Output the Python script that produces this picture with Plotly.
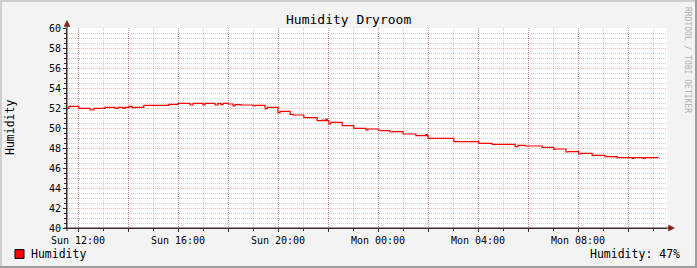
import plotly.graph_objects as go

# ---- data ----
day_sun = "2011-01-02"
day_mon = "2011-01-03"
times_sun = ["11:34", "11:38", "12:02", "12:29", "12:38", "13:05", "13:29", "13:36", "13:48", "13:53",
             "14:02", "14:10", "14:17", "14:38", "15:38", "16:00", "16:29", "16:36", "17:00", "17:05",
             "17:29", "17:36", "17:43", "17:48", "18:00", "18:12", "18:17", "18:31", "19:00", "19:05",
             "19:29", "19:34", "20:00", "20:05", "20:29", "20:36", "21:02", "21:34", "21:46", "21:50",
             "21:55", "21:58", "22:02", "22:07", "22:34", "23:02", "23:31", "23:36"]
values_sun = [51.97, 52.17, 51.97, 51.80, 51.97, 52.07, 51.97, 52.07, 51.97, 52.07,
              52.17, 52.03, 52.07, 52.27, 52.37, 52.47, 52.30, 52.47, 52.30, 52.47,
              52.30, 52.47, 52.33, 52.47, 52.40, 52.20, 52.33, 52.30, 52.20, 52.27,
              51.93, 52.07, 51.53, 51.67, 51.37, 51.30, 51.03, 50.73, 50.80, 50.73,
              50.90, 50.73, 50.40, 50.57, 50.23, 49.97, 49.80, 49.90]
times_mon = ["00:00", "00:05", "00:29", "00:36", "01:00", "01:31", "01:55", "01:58", "02:00", "03:02",
             "04:02", "04:34", "05:29", "05:36", "05:53", "06:34", "07:02", "07:05", "07:31", "07:36",
             "08:02", "08:07", "08:34", "09:05", "09:34", "10:10", "10:14", "10:36", "10:41", "11:14"]
values_mon = [49.80, 49.73, 49.60, 49.63, 49.40, 49.23, 49.33, 49.23, 48.97, 48.63,
              48.47, 48.37, 48.13, 48.27, 48.20, 48.07, 47.87, 47.90, 47.60, 47.63,
              47.40, 47.47, 47.27, 47.13, 47.03, 46.97, 47.03, 46.97, 47.03, 47.03]

x_range = ["2011-01-02 11:33:36", "2011-01-03 11:33:36"]
x_tick_hours = ["2011-01-02 12:00", "2011-01-02 14:00", "2011-01-02 16:00", "2011-01-02 18:00",
                "2011-01-02 20:00", "2011-01-02 22:00", "2011-01-03 00:00", "2011-01-03 02:00",
                "2011-01-03 04:00", "2011-01-03 06:00", "2011-01-03 08:00", "2011-01-03 10:00"]
x_tick_text = ["Sun 12:00", "", "Sun 16:00", "", "Sun 20:00", "", "Mon 00:00", "",
               "Mon 04:00", "", "Mon 08:00", ""]
y_range = [40, 60]
title_text = "Humidity Dryroom"
y_title = "Humidity"
series_name = "Humidity"
legend_value = "Humidity: 47%"
watermark = "RRDTOOL / TOBI OETIKER"

times = [f"{day_sun} {t}" for t in times_sun] + [f"{day_mon} {t}" for t in times_mon]
values = values_sun + values_mon

FONT = "DejaVu Sans Mono"
W, H = 697, 268
L, R, T, B = 67, 667, 28, 228   # plot area in pixels


def px(x):
    return (x - L) / (R - L)


def py(y):
    return (B - y) / (B - T)


fig = go.Figure()
fig.add_trace(go.Scatter(x=times, y=values, mode="lines", line=dict(color="#FF0000", width=1.2, shape="hv"),
                         name=series_name, showlegend=False, hoverinfo="skip"))

major_grid = "rgba(255,0,0,0.3)"
minor_grid = "rgba(143,143,143,0.42)"
axis_col = "#3a2a2a"

fig.update_layout(
    width=W, height=H,
    margin=dict(l=L, r=W - R, t=T, b=H - B, pad=0),
    paper_bgcolor="#F3F3F3",
    plot_bgcolor="#FFFFFF",
    font=dict(family=FONT, size=10, color="#000000"),
    showlegend=False,
    xaxis=dict(
        type="date", range=x_range, tickmode="array", tickvals=x_tick_hours, ticktext=x_tick_text,
        showgrid=True, gridcolor=major_grid, griddash="1px,1px", gridwidth=1,
        ticks="outside", ticklen=3, tickcolor=axis_col,
        showline=True, linecolor=axis_col, linewidth=1, zeroline=False,
        tickfont=dict(family=FONT, size=10),
        minor=dict(tickmode="linear", tick0="2011-01-02 12:00", dtick=3600000,
                   showgrid=True, gridcolor=minor_grid, griddash="1px,1px", gridwidth=1,
                   ticks="outside", ticklen=2, tickcolor=axis_col),
        automargin=False,
    ),
    yaxis=dict(
        range=y_range, dtick=2, tick0=40,
        showgrid=True, gridcolor=major_grid, griddash="1px,1px", gridwidth=1,
        ticks="outside", ticklen=3, tickcolor=axis_col,
        showline=True, linecolor=axis_col, linewidth=1, zeroline=False,
        tickfont=dict(family=FONT, size=10),
        minor=dict(dtick=0.5, showgrid=True, gridcolor=minor_grid, griddash="1px,1px", gridwidth=1,
                   ticks="outside", ticklen=2, tickcolor=axis_col),
        automargin=False,
    ),
)

shapes = []
# 3D frame around the image
shapes.append(dict(type="rect", xref="paper", yref="paper", x0=px(0), x1=px(W), y0=py(0), y1=py(2),
                   fillcolor="#CFCFCF", line=dict(width=0), layer="above"))
shapes.append(dict(type="rect", xref="paper", yref="paper", x0=px(0), x1=px(2), y0=py(0), y1=py(H),
                   fillcolor="#CFCFCF", line=dict(width=0), layer="above"))
shapes.append(dict(type="rect", xref="paper", yref="paper", x0=px(W - 2), x1=px(W), y0=py(0), y1=py(H),
                   fillcolor="#9E9E9E", line=dict(width=0), layer="above"))
shapes.append(dict(type="rect", xref="paper", yref="paper", x0=px(0), x1=px(W), y0=py(H - 2), y1=py(H),
                   fillcolor="#9E9E9E", line=dict(width=0), layer="above"))
# axis extensions and arrows
shapes.append(dict(type="line", xref="paper", yref="paper", x0=px(L), x1=px(L), y0=py(B + 3), y1=py(24),
                   line=dict(color=axis_col, width=1), layer="above"))
shapes.append(dict(type="line", xref="paper", yref="paper", x0=px(L - 3), x1=px(670), y0=py(B), y1=py(B),
                   line=dict(color=axis_col, width=1), layer="above"))
arrow_col = "#7F1F1F"
shapes.append(dict(type="path", xref="paper", yref="paper",
                   path=f"M {px(L)} {py(20.5)} L {px(L - 3)} {py(26.5)} L {px(L + 3)} {py(26.5)} Z",
                   fillcolor=arrow_col, line=dict(color=arrow_col, width=0.5), layer="above"))
shapes.append(dict(type="path", xref="paper", yref="paper",
                   path=f"M {px(674.5)} {py(B)} L {px(668.5)} {py(B - 3)} L {px(668.5)} {py(B + 3)} Z",
                   fillcolor=arrow_col, line=dict(color=arrow_col, width=0.5), layer="above"))
# legend swatch
shapes.append(dict(type="rect", xref="paper", yref="paper", x0=px(15), x1=px(24), y0=py(249.5), y1=py(258.5),
                   fillcolor="#FF0000", line=dict(color="#000000", width=1), layer="above"))
fig.update_layout(shapes=shapes)

ann = [
    dict(text=title_text, x=px(348), y=py(19), xref="paper", yref="paper", showarrow=False,
         xanchor="center", yanchor="middle", font=dict(family=FONT, size=13, color="#000")),
    dict(text=y_title, x=px(10), y=py(128), xref="paper", yref="paper", showarrow=False, textangle=-90,
         xanchor="center", yanchor="middle", font=dict(family=FONT, size=11.5, color="#000")),
    dict(text=series_name, x=px(29), y=py(254), xref="paper", yref="paper", showarrow=False,
         xanchor="left", yanchor="middle", font=dict(family=FONT, size=11.5, color="#000")),
    dict(text=legend_value, x=px(682), y=py(254), xref="paper", yref="paper", showarrow=False,
         xanchor="right", yanchor="middle", font=dict(family=FONT, size=11.5, color="#000")),
    dict(text=watermark, x=px(688), y=py(60), xref="paper", yref="paper", showarrow=False, textangle=90,
         xanchor="center", yanchor="middle", font=dict(family=FONT, size=8, color="#B0B0B0")),
]
fig.update_layout(annotations=ann)

fig.write_html("out.html")
